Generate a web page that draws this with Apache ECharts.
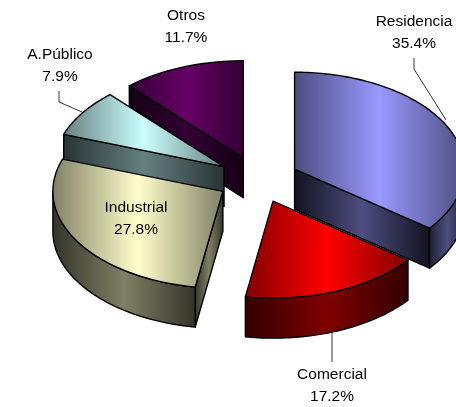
<!DOCTYPE html>
<html>
<head>
<meta charset="utf-8">
<style>
  html, body { margin: 0; padding: 0; background: #fff; }
  #chart { width: 456px; height: 407px; }
</style>
<script src="https://cdn.jsdelivr.net/npm/echarts@6/dist/echarts.min.js"></script>
</head>
<body>
<div id="chart"></div>
<script>
var categories = ["Residencia", "Comercial", "Industrial", "A.Público", "Otros"];
var shares = [35.4, 17.2, 27.8, 7.9, 11.7];
var sliceColors = ["#9999FF", "#FF0000", "#FFFFCC", "#CCFFFF", "#660066"];
// painter's order, back slices first
var drawOrder = [4, 3, 2, 0, 1];

// layout of the fake 3D pie
var centerX = 258, centerY = 179.5;
var radiusX = 170, radiusY = 97;
var depth = 40;
var explode = 0.24;

// label centre and leader line for each category
var labelAt = [[414, 22], [332, 375], [136, 208], [60, 55], [186, 16]];
var leaders = [
  [[414, 58], [414, 69], [446, 120]],
  [[332, 333], [332, 362]],
  null,
  [[59, 91], [59, 102], [82, 112]],
  null,
];

function shade(color, k) {
  var c = echarts.color.parse(color);
  return "rgb(" + Math.round(c[0] * k) + "," + Math.round(c[1] * k) + "," + Math.round(c[2] * k) + ")";
}

function sweep(color, edge, mid) {
  return new echarts.graphic.LinearGradient(0, 0, 1, 0, [
    { offset: 0, color: shade(color, edge) },
    { offset: 0.5, color: shade(color, mid) },
    { offset: 1, color: shade(color, edge) },
  ]);
}

function renderSlice(params, api) {
  var idx = api.value(0);
  var from = api.value(1);
  var to = api.value(2);
  var a = echarts.number.linearMap(from, [0, 100], [0, Math.PI * 2]);
  var b = echarts.number.linearMap(to, [0, 100], [0, Math.PI * 2]);
  var m = (a + b) / 2;
  var color = sliceColors[idx];
  var apex = [
    centerX + explode * radiusX * Math.sin(m),
    centerY - explode * radiusY * Math.cos(m),
  ];
  var rim = function (t) {
    return [apex[0] + radiusX * Math.sin(t), apex[1] - radiusY * Math.cos(t)];
  };
  var down = function (p) {
    return [p[0], p[1] + depth];
  };
  var arc = function (t0, t1) {
    var pts = [];
    var n = Math.max(2, Math.ceil((t1 - t0) / 0.02));
    for (var i = 0; i <= n; i++) {
      pts.push(rim(t0 + ((t1 - t0) * i) / n));
    }
    return pts;
  };
  var face = function (points, fill) {
    return {
      type: "polygon",
      shape: { points: points },
      style: { fill: fill, stroke: "#000", lineWidth: 1.4, lineJoin: "round" },
    };
  };

  var children = [];
  // cut walls that look towards the viewer
  if (Math.sin(a) < -0.001) {
    children.push(face([apex, rim(a), down(rim(a)), down(apex)], sweep(color, 0.2, 0.5)));
  }
  if (Math.sin(b) > 0.001) {
    children.push(face([apex, rim(b), down(rim(b)), down(apex)], sweep(color, 0.12, 0.5)));
  }
  // outer wall, front half of the ellipse only
  var w0 = Math.max(a, Math.PI / 2);
  var w1 = Math.min(b, (Math.PI * 3) / 2);
  if (w1 > w0) {
    var top = arc(w0, w1);
    var wall = top.concat(top.map(down).reverse());
    children.push(face(wall, sweep(color, 0.2, 0.5)));
  }
  // top face
  children.push(face([apex].concat(arc(a, b)), sweep(color, 0.5, 1)));

  if (leaders[idx]) {
    children.push({
      type: "polyline",
      shape: { points: leaders[idx] },
      style: { fill: null, stroke: "#000", lineWidth: 0.8 },
    });
  }
  children.push({
    type: "text",
    style: {
      text: categories[idx] + "\n" + shares[idx].toFixed(1) + "%",
      x: labelAt[idx][0],
      y: labelAt[idx][1],
      align: "center",
      verticalAlign: "middle",
      lineHeight: 21.5,
      font: '15.5px "Liberation Sans", Arial, sans-serif',
      fill: "#000",
    },
  });
  // label block is centred on y, shift so labelAt is the first line
  children[children.length - 1].style.y += 10.75;
  return { type: "group", children: children };
}

// cumulative start/end per category
var starts = [];
var running = 0;
shares.forEach(function (v) {
  starts.push(running);
  running += v;
});
var rows = drawOrder.map(function (i) {
  return [i, starts[i], starts[i] + shares[i]];
});

var chart = echarts.init(document.getElementById("chart"), null, { renderer: "canvas" });
chart.setOption({
  backgroundColor: "#fff",
  animation: false,
  series: [
    {
      type: "custom",
      coordinateSystem: "none",
      silent: true,
      renderItem: renderSlice,
      data: rows,
    },
  ],
});
</script>
</body>
</html>
